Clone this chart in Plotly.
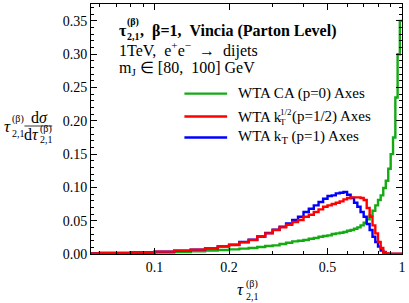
import plotly.graph_objects as go

# ---- data (bin edges of the tau_{2,1} histogram, bin width 0.02) ----
bin_lo = [0.04, 0.06, 0.08, 0.10, 0.12, 0.14, 0.16, 0.18, 0.20, 0.22, 0.24, 0.26,
          0.28, 0.30, 0.32, 0.34, 0.36, 0.38, 0.40, 0.42, 0.44, 0.46, 0.48, 0.50,
          0.52, 0.54, 0.56, 0.58, 0.60, 0.62, 0.64, 0.66, 0.68, 0.70, 0.72, 0.74,
          0.76, 0.78, 0.80, 0.82, 0.84, 0.86, 0.88, 0.90, 0.92, 0.94, 0.96, 0.98]
bin_hi_last = 1.00

wta_ca = [0.0005, 0.001, 0.0015, 0.002, 0.003, 0.004, 0.005, 0.006, 0.007, 0.008,
          0.009, 0.0105, 0.012, 0.013, 0.015, 0.017, 0.019, 0.020, 0.021, 0.023,
          0.024, 0.026, 0.027, 0.028, 0.030, 0.031, 0.032, 0.033, 0.035, 0.036,
          0.038, 0.040, 0.043, 0.047, 0.052, 0.058, 0.065, 0.073, 0.081, 0.088,
          0.099, 0.110, 0.128, 0.150, 0.175, 0.235, 0.300, 0.350]

wta_kt12 = [0.001, 0.0015, 0.0025, 0.0035, 0.005, 0.0065, 0.008, 0.011, 0.0135, 0.0175,
            0.021, 0.026, 0.031, 0.036, 0.040, 0.044, 0.048, 0.051, 0.056, 0.059,
            0.063, 0.067, 0.071, 0.073, 0.075, 0.077, 0.079, 0.082, 0.084, 0.085,
            0.085, 0.085, 0.084, 0.081, 0.069, 0.056, 0.043, 0.031, 0.018, 0.009,
            0.003, 0.001, 0.0003, 0.0003, 0.0003, 0.0003, 0.0003, 0.0003]

wta_kt = [0.001, 0.0015, 0.0025, 0.0035, 0.005, 0.0065, 0.0085, 0.0115, 0.014, 0.018,
          0.0215, 0.0265, 0.0315, 0.0365, 0.041, 0.046, 0.051, 0.056, 0.063, 0.068,
          0.073, 0.078, 0.083, 0.087, 0.088, 0.091, 0.092, 0.093, 0.089, 0.084,
          0.077, 0.071, 0.063, 0.056, 0.045, 0.036, 0.026, 0.018, 0.011, 0.005,
          0.002, 0.0005, 0.0, 0.0, 0.0, 0.0, 0.0, 0.0]

x_tickvals = [0.1, 0.2, 0.5, 1]
x_ticktext = ["0.1", "0.2", "0.5", "1"]
x_minor = [0.06, 0.07, 0.08, 0.09, 0.3, 0.4, 0.6, 0.7, 0.8, 0.9]
y_tickvals = [0.00, 0.05, 0.10, 0.15, 0.20, 0.25, 0.30, 0.35]

GREEN = "rgb(20,170,20)"
RED = "rgb(255,0,0)"
BLUE = "rgb(0,0,255)"
SERIF = "Liberation Serif, Times New Roman, serif"

def steps(vals):
    xs = list(bin_lo) + [bin_hi_last]
    ys = list(vals) + [vals[-1]]
    return xs, ys

fig = go.Figure()
for vals, col in [(wta_ca, GREEN), (wta_kt, BLUE), (wta_kt12, RED)]:
    xs, ys = steps(vals)
    fig.add_trace(go.Scatter(x=xs, y=ys, mode="lines", line=dict(color=col, width=2.4, shape="hv"),
                             showlegend=False, hoverinfo="skip"))

L, R, T, B = 91, 404, 3, 254
W, H = 409, 303

def px(x):
    return (x - L) / (R - L)

def py(y):
    return (B - y) / (B - T)

ann = []
def text(s, x, y, size=14, anchor="left", bold=False, italic=False):
    if bold:
        s = "<b>" + s + "</b>"
    if italic:
        s = "<i>" + s + "</i>"
    ann.append(dict(text=s, x=px(x), y=py(y), xref="paper", yref="paper", showarrow=False,
                    xanchor=anchor, yanchor="middle", font=dict(family=SERIF, size=size, color="black")))

# title block
text("τ", 117, 30, size=16, bold=True)
text("(β)", 125, 21, size=10, bold=True)
text("2,1", 125, 36, size=10, bold=True)
text(",  β=1,  Vincia (Parton Level)", 138, 30, size=16, bold=True)
text("1TeV,  e<sup>+</sup>e<sup>−</sup>  →  dijets", 117, 49, size=16)
text("m<sub>J</sub> ∈ [80,  100] GeV", 117, 68, size=16)

# legend
leg = [(GREEN, 93), (RED, 116), (BLUE, 137)]
shapes = []
for col, yy in leg:
    shapes.append(dict(type="line", xref="paper", yref="paper", x0=px(185), x1=px(228),
                       y0=py(yy), y1=py(yy), line=dict(color=col, width=2.4)))
text("WTA CA (p=0) Axes", 237, 93, size=15)
text("WTA k", 237, 116, size=15)
text("1/2", 279, 111, size=9)
text("T", 279, 121, size=9)
text("(p=1/2) Axes", 291, 116, size=15)
text("WTA k<sub>T</sub> (p=1) Axes", 237, 137, size=15)

# y axis label
text("τ", 1, 126, size=17, italic=True)
text("(β)", 9, 118, size=10)
text("2,1", 9, 133, size=10)
text("d<i>σ</i>", 39, 117, size=16, anchor="center")
shapes.append(dict(type="line", xref="paper", yref="paper", x0=px(24), x1=px(52),
                   y0=py(125.5), y1=py(125.5), line=dict(color="black", width=0.8)))
text("d<i>τ</i>", 22, 134, size=16)
text("(β)", 38, 128, size=10)
text("2,1", 38, 139, size=10)

# x axis label
text("τ", 236, 290, size=17, italic=True)
text("(β)", 245, 284, size=10)
text("2,1", 245, 297, size=10)

fig.update_layout(
    width=W, height=H,
    margin=dict(l=L, r=W - R, t=T, b=H - B, pad=0),
    paper_bgcolor="white", plot_bgcolor="white",
    annotations=ann, shapes=shapes,
    font=dict(family=SERIF, size=14, color="black"),
    xaxis=dict(type="log", range=[-1.257, 0], tickvals=x_tickvals, ticktext=x_ticktext,
               ticks="inside", ticklen=6, tickwidth=1, tickcolor="black",
               showline=True, linecolor="black", linewidth=1, mirror="allticks",
               showgrid=False, zeroline=False,
               minor=dict(tickvals=x_minor, ticks="inside", ticklen=3, tickcolor="black", showgrid=False),
               tickfont=dict(family=SERIF, size=14)),
    yaxis=dict(range=[0, 0.3754], tickvals=y_tickvals, tickformat=".2f",
               ticks="inside", ticklen=6, tickwidth=1, tickcolor="black",
               showline=True, linecolor="black", linewidth=1, mirror="allticks",
               showgrid=False, zeroline=False,
               minor=dict(dtick=0.01, ticks="inside", ticklen=3, tickcolor="black", showgrid=False),
               tickfont=dict(family=SERIF, size=14)),
)

fig.write_html("out.html", config={"displayModeBar": False},
               post_script="document.body.style.margin='0';document.body.style.padding='0';")
